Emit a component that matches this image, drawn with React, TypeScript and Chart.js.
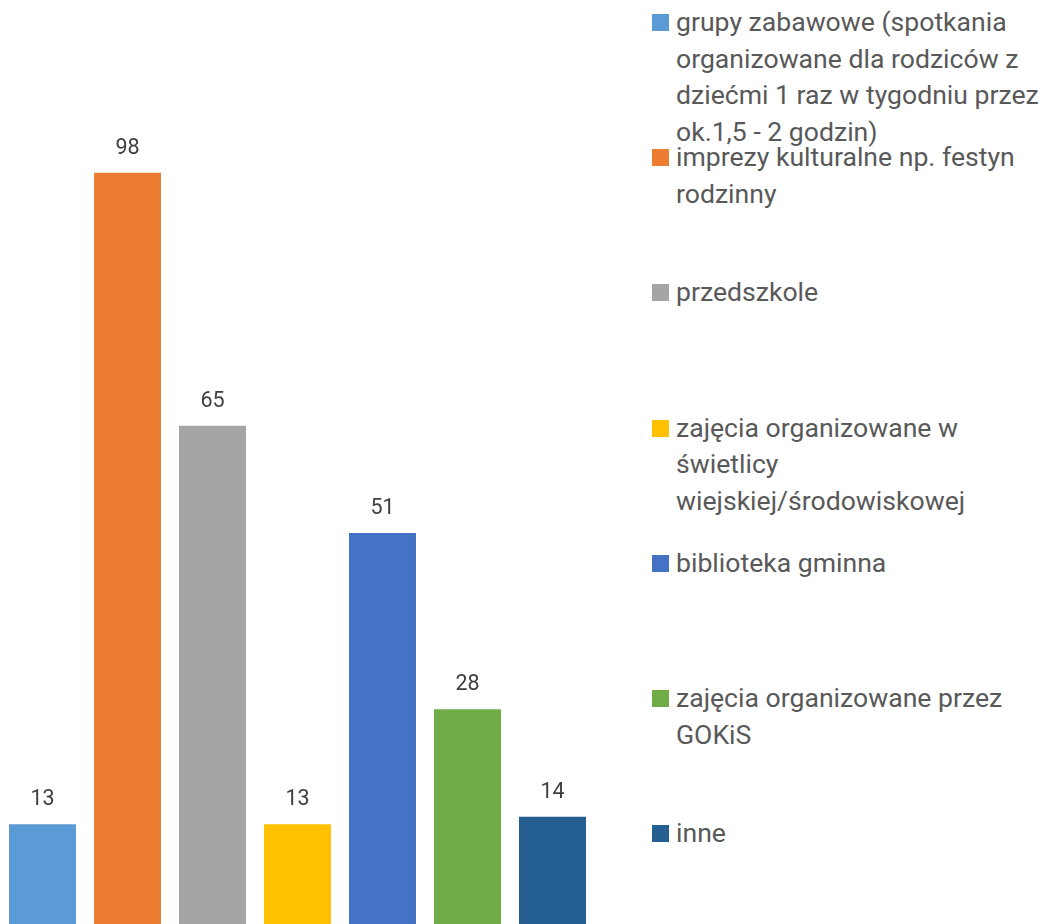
import React, { useEffect, useRef } from "react";
import { Chart, registerables } from "chart.js";

Chart.register(...registerables);

const seriesNames: string[] = [
  "grupy zabawowe (spotkania organizowane dla rodziców z dziećmi 1 raz w tygodniu przez ok.1,5 - 2 godzin)",
  "imprezy kulturalne np. festyn rodzinny",
  "przedszkole",
  "zajęcia organizowane w świetlicy wiejskiej/środowiskowej",
  "biblioteka gminna",
  "zajęcia organizowane przez GOKiS",
  "inne",
];

const legendLines: string[][] = [
  ["grupy zabawowe (spotkania", "organizowane dla rodziców z", "dziećmi 1 raz w tygodniu przez", "ok.1,5 - 2 godzin)"],
  ["imprezy kulturalne np. festyn", "rodzinny"],
  ["przedszkole"],
  ["zajęcia organizowane w", "świetlicy", "wiejskiej/środowiskowej"],
  ["biblioteka gminna"],
  ["zajęcia organizowane przez", "GOKiS"],
  ["inne"],
];

const seriesValues: number[] = [13, 98, 65, 13, 51, 28, 14];

const seriesColors: string[] = [
  "#5B9BD5",
  "#ED7D31",
  "#A5A5A5",
  "#FFC000",
  "#4472C4",
  "#70AD47",
  "#255E91",
];

const categories: string[] = [""];

const dataLabelPlugin = {
  id: "valueLabels",
  afterDatasetsDraw(chart: any) {
    const ctx = chart.ctx;
    ctx.save();
    ctx.font = "21.5px Roboto";
    ctx.fillStyle = "#404040";
    ctx.textAlign = "center";
    ctx.textBaseline = "alphabetic";
    chart.data.datasets.forEach((ds: any, i: number) => {
      const meta = chart.getDatasetMeta(i);
      meta.data.forEach((el: any, j: number) => {
        const v = ds.data[j];
        if (v === null || v === undefined) return;
        ctx.fillText(String(v), el.x, el.y - 19);
      });
    });
    ctx.restore();
  },
};

export default function App() {
  const canvasRef = useRef<HTMLCanvasElement | null>(null);

  useEffect(() => {
    if (!canvasRef.current) return;
    const chart = new Chart(canvasRef.current, {
      type: "bar",
      data: {
        labels: categories,
        datasets: seriesNames.map((name, i) => ({
          label: name,
          data: [seriesValues[i]],
          backgroundColor: seriesColors[i],
          borderWidth: 0,
          categoryPercentage: 1,
          barPercentage: 0.788,
        })),
      },
      options: {
        responsive: false,
        animation: false,
        devicePixelRatio: 1,
        layout: { padding: { top: 4, left: 0, right: 0, bottom: 0 } },
        plugins: {
          legend: { display: false },
          tooltip: { enabled: false },
          title: { display: false },
        },
        scales: {
          x: { display: false, grid: { display: false } },
          y: { display: false, min: 0, max: 120, grid: { display: false } },
        },
      },
      plugins: [dataLabelPlugin],
    });
    return () => chart.destroy();
  }, []);

  return (
    <div
      style={{
        position: "fixed",
        left: 0,
        top: 0,
        width: 1048,
        height: 924,
        background: "#ffffff",
        overflow: "hidden",
      }}
    >
      <canvas
        ref={canvasRef}
        width={595}
        height={924}
        style={{ position: "absolute", left: 0, top: 0, width: 595, height: 924 }}
      />
      {legendLines.map((lines, i) => (
        <div
          key={i}
          style={{
            position: "absolute",
            left: 652,
            top: 4 + i * 135.2,
            width: 396,
            fontFamily: "Roboto",
            fontSize: 26.6,
            lineHeight: "36.7px",
            color: "#595959",
            whiteSpace: "nowrap",
          }}
        >
          <span
            style={{
              position: "absolute",
              left: 0,
              top: 10,
              width: 17,
              height: 17,
              background: seriesColors[i],
            }}
          />
          <div style={{ marginLeft: 24 }}>
            {lines.map((l, k) => (
              <div key={k}>{l}</div>
            ))}
          </div>
        </div>
      ))}
    </div>
  );
}
